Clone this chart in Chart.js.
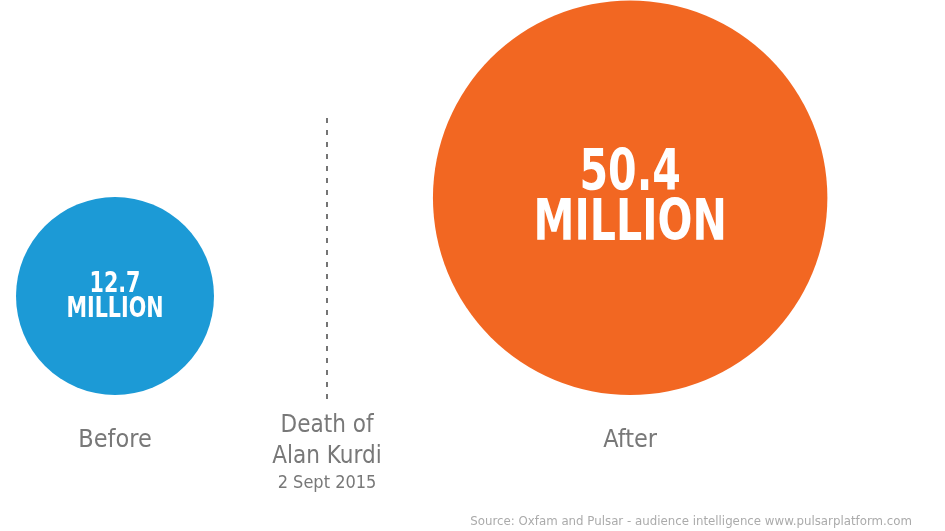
<!DOCTYPE html>
<html lang="en">
<head>
    <meta charset="UTF-8">
    <title>Before / After Alan Kurdi</title>
    <script src="https://cdn.jsdelivr.net/npm/chart.js"></script>
    <style>
        html, body { margin: 0; padding: 0; background: #fff; overflow: hidden; }
        canvas { display: block; }
    </style>
</head>
<body>
<canvas id="bubbles" width="945" height="531"></canvas>

<script>
    // data
    const periods = ['Before', 'After'];
    const audience = [12.7, 50.4];           // millions
    const audienceText = ['12.7', '50.4'];
    const eventLines = ['Death of', 'Alan Kurdi'];
    const eventDate = '2 Sept 2015';
    const source = 'Source: Oxfam and Pulsar - audience intelligence www.pulsarplatform.com';

    // layout
    const slots = [0, 2.43];    // x slot of each period, event sits at 1
    const eventSlot = 1;
    const baseY = 395;          // circles rest on this line
    const k = 99 / Math.sqrt(12.7);
    const colors = ['#1c9ad6', '#f26722'];
    const font = '"DejaVu Sans Condensed", "DejaVu Sans", sans-serif';

    const radius = v => k * Math.sqrt(v);

    const overlay = {
        id: 'overlay',
        afterDatasetsDraw(chart) {
            const ctx = chart.ctx;
            const x = chart.scales.x;
            ctx.save();

            // dashed divider
            const ex = x.getPixelForValue(eventSlot);
            ctx.strokeStyle = '#666';
            ctx.lineWidth = 1.8;
            ctx.setLineDash([5, 7]);
            ctx.beginPath();
            ctx.moveTo(ex, 118);
            ctx.lineTo(ex, 402);
            ctx.stroke();
            ctx.setLineDash([]);

            ctx.textAlign = 'center';
            ctx.textBaseline = 'alphabetic';

            // values inside circles, squeezed to a narrow look
            audience.forEach((v, i) => {
                const meta = chart.getDatasetMeta(0).data[i];
                const r = radius(v);
                const fs = r * 0.29;
                ctx.fillStyle = '#fff';
                ctx.font = 'bold ' + fs + 'px ' + font;
                const sx = (r * 0.98) / ctx.measureText('MILLION').width;
                ctx.save();
                ctx.translate(meta.x, meta.y);
                ctx.scale(sx, 1);
                ctx.fillText(audienceText[i], 0, -r * 0.04);
                ctx.fillText('MILLION', 0, r * 0.215);
                ctx.restore();
            });

            // period labels
            ctx.fillStyle = '#787878';
            ctx.font = '25px ' + font;
            periods.forEach((p, i) => {
                ctx.fillText(p, x.getPixelForValue(slots[i]), 447);
            });
            ctx.font = '24px ' + font;
            eventLines.forEach((t, i) => {
                ctx.fillText(t, ex, 432 + i * 31);
            });
            ctx.font = '18px ' + font;
            ctx.fillText(eventDate, ex, 488);

            ctx.fillStyle = '#ababab';
            ctx.font = '11.8px "DejaVu Sans", sans-serif';
            ctx.textAlign = 'right';
            ctx.fillText(source, 912, 525);
            ctx.restore();
        }
    };

    new Chart(document.getElementById('bubbles'), {
        type: 'bubble',
        data: {
            labels: periods,
            datasets: [{
                data: audience.map((v, i) => ({ x: slots[i], y: baseY - radius(v), r: radius(v) })),
                backgroundColor: colors,
                borderWidth: 0,
                hoverBorderWidth: 0,
                clip: false
            }]
        },
        options: {
            responsive: false,
            animation: false,
            layout: { padding: 0, autoPadding: false },
            plugins: { legend: { display: false }, tooltip: { enabled: false } },
            scales: {
                x: { type: 'linear', display: false, min: -115 / 212, max: 830 / 212 },
                y: { type: 'linear', display: false, min: 0, max: 531, reverse: true }
            }
        },
        plugins: [overlay]
    });
</script>
</body>
</html>
